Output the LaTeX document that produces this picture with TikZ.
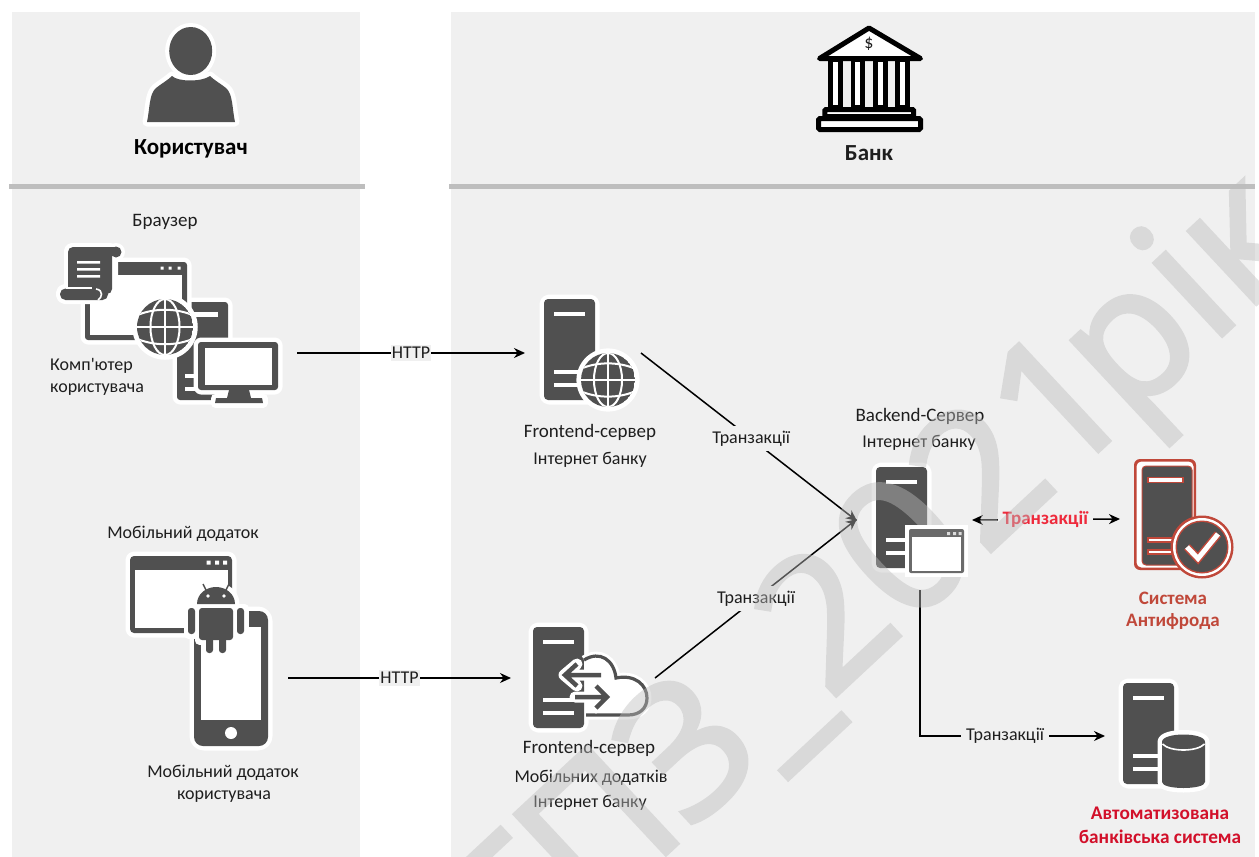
\documentclass[tikz,border=0pt]{standalone}
\usepackage{fontspec}
\setmainfont{Carlito}
\newfontfamily\plainc{Carlito}
\newfontfamily\wmfont[FakeBold=2.4]{Open Sans}
\usetikzlibrary{arrows.meta,calc}
\definecolor{panelbg}{HTML}{F0F0F0}
\definecolor{dark}{HTML}{505050}
\definecolor{ruleg}{HTML}{BEBEBE}
\definecolor{txt}{HTML}{1E1E1E}
\definecolor{afred}{HTML}{C0483A}
\definecolor{absred}{HTML}{D2102A}
\definecolor{brred}{HTML}{EE2A3C}
\definecolor{wm}{HTML}{BDBDBD}
\tikzset{
  panel/.style={fill=panelbg,draw=none},
  sep/.style={draw=ruleg,line width=5pt},
  dk/.style={fill=dark,draw=none},
  wh/.style={fill=white,draw=none},
  halo/.style={fill=white,draw=white,line width=#1,line join=round},
  halo/.default=9pt,
  iconbox/.style={draw=none,fill=none,inner sep=0pt,outer sep=0pt},
  lbl/.style={font=\fontsize{18}{22}\selectfont,text=txt,inner sep=0pt,yshift=-1.5pt},
  lblw/.style={lbl,font=\fontsize{19}{22}\selectfont},
  conn/.style={draw=black,line width=1.5pt},
  arr/.style={conn,-{Stealth[length=11pt,width=10pt]}},
  onconn/.style={lbl,fill=panelbg,inner sep=5pt,pos=.5,yshift=1.5pt},
  onhttp/.style={lbl,fill=panelbg,inner xsep=1pt,inner ysep=2pt,yshift=1.5pt},
}
% server tower: top-left corner of body
\newcommand{\towerIcon}[2]{%
  \begin{scope}[shift={(#1,#2)}]
    \fill[halo,rounded corners=5pt] (0,0) rectangle (51,101);
    \fill[dk,rounded corners=4pt] (0,0) rectangle (51,101);
    \fill[wh] (10,13) rectangle (41,17);
    \fill[wh] (10,71) rectangle (41,75);
    \fill[wh] (10,84) rectangle (41,88);
  \end{scope}}
\newcommand{\globeIcon}[3]{%
  \begin{scope}[shift={(#1,#2)},scale=#3]
    \fill[white] (0,0) circle[radius=1.17];
    \begin{scope}
      \clip (0,0) circle[radius=1];
      \fill[dark] (0,0) circle[radius=1];
      \draw[white,line width=2pt] (-1,0) -- (1,0) (0,-1) -- (0,1);
      \draw[white,line width=2pt] (0,0) ellipse[x radius=.52,y radius=1];
      \draw[white,line width=2pt] (-1,-.42) .. controls (-.4,-.68) and (.4,-.68) .. (1,-.42);
      \draw[white,line width=2pt] (-1,.42) .. controls (-.4,.68) and (.4,.68) .. (1,.42);
    \end{scope}
  \end{scope}}
\begin{document}
\begin{tikzpicture}[x=1pt,y=-1pt]
\useasboundingbox (0,0) rectangle (1259,857);
\fill[white] (0,0) rectangle (1259,857);
\clip (0,0) rectangle (1259,857);
% panels
\fill[panel] (12,12) rectangle (360,857);
\fill[panel] (451,12) rectangle (1255,857);
\draw[sep] (9,186.5) -- (365,186.5);
\draw[sep] (449,186.5) -- (1255,186.5);

% ---- layout boxes for icons
\node[iconbox,minimum width=237pt,minimum height=100pt] (pc) at (178.5,353) {};
\node[iconbox,minimum width=158pt,minimum height=136pt] (mob) at (209,678) {};
\node[iconbox,minimum width=116pt,minimum height=110pt] (fe) at (583,353) {};
\node[iconbox,minimum width=144pt,minimum height=100pt] (fm) at (583,678) {};
\node[iconbox,minimum width=115pt,minimum height=140pt] (be) at (914.5,520) {};
\node[iconbox,minimum width=100pt,minimum height=112pt] (af) at (1170,519) {};
\node[iconbox,minimum width=100pt,minimum height=112pt] (abs) at (1155,736) {};

% ---- user
\fill[halo] (147,122) .. controls (150,108) and (149,94) .. (156,88)
  .. controls (161,84) and (168,80) .. (172,76)
  .. controls (178,82) and (202,82) .. (210,76)
  .. controls (214,80) and (221,84) .. (226,88)
  .. controls (233,94) and (232,108) .. (235,122) -- cycle;
\fill[dk] (147,122) .. controls (150,108) and (149,94) .. (156,88)
  .. controls (161,84) and (168,80) .. (172,76)
  .. controls (178,82) and (202,82) .. (210,76)
  .. controls (214,80) and (221,84) .. (226,88)
  .. controls (233,94) and (232,108) .. (235,122) -- cycle;
\fill[white] (190.7,51) ellipse[x radius=25.5,y radius=28];
\fill[dark] (190.7,51) ellipse[x radius=21.5,y radius=24];
\node[lbl,font=\fontsize{23}{26}\selectfont\bfseries,text=black] (tuser) at (191,147) {Користувач};

% ---- bank
\draw[black,line width=5pt,fill=white,line join=round,line cap=round] (869,28) -- (819.5,58.5) -- (920.5,58.5) -- cycle;
\node[lbl,font=\fontsize{18}{18}\selectfont] (tdollar) at (869,42) {\$};
\foreach \cx in {828.3,850.7,873.3,895.3}{
  \draw[black,line width=4.7pt,fill=white] (\cx+2.35,60) rectangle (\cx+12.1,107);
}
\draw[black,line width=5pt,fill=white,rounded corners=1pt] (824.8,109.5) rectangle (913.5,116.5);
\draw[black,line width=5pt,fill=white,rounded corners=1.5pt] (818.5,118.5) rectangle (920.5,129.5);
\node[lbl,font=\fontsize{23}{26}\selectfont\bfseries,text=txt] (tbank) at (869,152) {Банк};

% ---- PC group
\fill[halo,rounded corners=3pt] (177,302) rectangle (228,400);
\fill[dk,rounded corners=3pt] (177,302) rectangle (228,400);
\fill[wh] (192,312) rectangle (218,317);
\fill[wh] (185,374) rectangle (199,377.5);
\fill[wh] (185,387) rectangle (199,391);
\fill[halo,rounded corners=3pt] (85,262) rectangle (187,340);
\fill[dk,rounded corners=3pt] (85,262) rectangle (187,340);
\fill[wh] (90,275) rectangle (182,335);
\fill[white] (160.5,266.5) rectangle (163.5,269.5) (168.5,266.5) rectangle (171.5,269.5) (177.5,266.5) rectangle (180.5,269.5);
% scroll
\fill[halo,line width=8pt,rounded corners=4pt] (68,247) rectangle (114,294);
\fill[white] (116,252) circle[radius=9];
\fill[halo,line width=8pt,rounded corners=5pt] (60,288) rectangle (108,300);
\fill[dk,rounded corners=5pt] (68,247) rectangle (112,294);
\fill[dark] (116,252) circle[radius=5.5];
\fill[dk] (104,246.5) rectangle (116,252);
\fill[dk,rounded corners=5.5pt] (60,288.5) rectangle (108,300);
\draw[white,line width=1.6pt] (96,289) .. controls (104,290) and (102,298) .. (98,300);
\draw[white,line width=1.6pt] (66,288) -- (92,288);
\fill[wh] (77,261) rectangle (100,263.5) (77,268) rectangle (100,270.5) (77,275) rectangle (100,277.5);
\globeIcon{165}{327}{28}
% monitor
\fill[halo,rounded corners=3pt] (198,342) rectangle (278,390);
\fill[halo] (231,390) rectangle (245,398) (215,398) rectangle (263,403);
\fill[dk,rounded corners=3pt] (198,342) rectangle (278,390);
\fill[wh] (205,348) rectangle (272,385);
\fill[dk] (229,390) -- (249,390) -- (251,398) -- (262,398) -- (263,403) -- (215,403) -- (216,398) -- (227,398) -- cycle;
\node[lbl,anchor=west] (tpc1) at (50,364) {{\plainc Комп'ютер}};
\node[lbl,anchor=west] (tpc2) at (50,388) {користувача};
\node[lblw] (tbrowser) at (165,220) {Браузер};

% ---- mobile group
\fill[halo,rounded corners=4pt] (130,556) rectangle (232,633);
\fill[dk,rounded corners=4pt] (130,556) rectangle (232,633);
\fill[wh] (135,570) rectangle (228,628);
\fill[white] (206.5,560.5) rectangle (210.5,564.5) (215,560.5) rectangle (219,564.5) (223,560.5) rectangle (227,564.5);
\fill[halo,rounded corners=10pt] (194,611) rectangle (268,746);
\fill[dk,rounded corners=9pt] (194,611) rectangle (268,746);
\fill[wh] (201,627) rectangle (261,720);
\fill[white] (231,733) circle[radius=6];
% android
\fill[halo,line width=9pt] (197,604) .. controls (197,594) and (206,587) .. (216,587) .. controls (226,587) and (235,594) .. (235,604) -- cycle;
\fill[halo,line width=9pt] (199,608) rectangle (233,640) (206,640) rectangle (226,653) (188,608) rectangle (195,634) (237,608) rectangle (244,634);
\draw[dark,line width=1.4pt] (207,592) -- (203,584) (225,592) -- (229,584);
\fill[dk] (197,604) .. controls (197,594) and (206,587) .. (216,587) .. controls (226,587) and (235,594) .. (235,604) -- cycle;
\fill[white] (208,596) circle[radius=1.8] (224,596) circle[radius=1.8];
\fill[dk,rounded corners=3pt] (199,608) -- (233,608) -- (233,640) -- (199,640) -- cycle;
\fill[dk,rounded corners=3pt] (188,608) rectangle (195,634) (237,608) rectangle (244,634);
\fill[dk,rounded corners=3pt] (206,636) rectangle (213,653) (219,636) rectangle (226,653);
\node[lbl] (tmob0) at (183,532) {Мобільний додаток};
\node[lbl] (tmob1) at (223,771) {Мобільний додаток};
\node[lbl] (tmob2) at (224,795) {користувача};

% ---- frontend web
\towerIcon{544}{299}
\globeIcon{608}{380}{27}
\node[lblw] (tfe1) at (590,431) {Frontend-сервер};
\node[lbl] (tfe2) at (590,458) {Інтернет банку};

% ---- frontend mobile
\towerIcon{533}{627}
\draw[white,line width=9pt,fill=white,line join=round] (584,660) .. controls (600,650) and (614,660) .. (616,678)
  .. controls (635,674) and (647,685) .. (647,698) .. controls (647,708) and (640,715) .. (628,715) -- (586,715);
\draw[dark,line width=3.2pt,fill=white] (584,660) .. controls (600,650) and (614,660) .. (616,678)
  .. controls (635,674) and (647,685) .. (647,698) .. controls (647,708) and (640,715) .. (628,715) -- (586,715);
\draw[white,line width=11pt,line cap=round,line join=round] (600,675) -- (566,675) (577,664) -- (564,675) -- (577,686);
\draw[white,line width=11pt,line cap=round,line join=round] (575,697) -- (606,697) (596,686) -- (607,697) -- (596,708);
\draw[dark,line width=4.5pt,line join=miter] (601,675) -- (567,675) (577,664) -- (565,675) -- (577,686);
\draw[dark,line width=4.5pt,line join=miter] (575,697) -- (605,697) (596,686) -- (607,697) -- (596,708);
\node[lblw] (tfm1) at (589,747) {Frontend-сервер};
\node[lbl] (tfm2) at (591,776) {Мобільних додатків};
\node[lbl] (tfm3) at (590,801) {Інтернет банку};

% ---- backend server
\towerIcon{876}{467}
\node[lblw] (tbe1) at (920,415) {Backend-Сервер};
\node[lbl] (tbe2) at (919,441) {Інтернет банку};

% ---- antifraud
\fill[afred,rounded corners=6pt] (1134,459) rectangle (1196,570);
\fill[white,rounded corners=5pt] (1136.5,461.5) rectangle (1193.5,567.5);
\draw[afred,fill=dark,line width=1pt,rounded corners=4pt] (1142,466) rectangle (1192,565);
\draw[afred,fill=white,line width=1.3pt] (1148,477.5) rectangle (1183,482.5);
\draw[afred,fill=white,line width=1.3pt] (1148,538) rectangle (1183,542);
\draw[afred,fill=white,line width=1.3pt] (1148,550) rectangle (1183,554);
\fill[afred] (1202,547) circle[radius=31.5];
\fill[white] (1202,547) circle[radius=29];
\fill[afred] (1202,547) circle[radius=26.5];
\fill[dark] (1202,547) circle[radius=25];
\draw[afred,line width=8pt,line join=miter] (1187,547) -- (1198,558.5) -- (1218,534);
\draw[white,line width=5pt,line join=miter] (1187,547) -- (1198,558.5) -- (1218,534);
\node[lbl,font=\fontsize{19}{22}\selectfont\bfseries,text=afred] (taf1) at (1173,597) {Система};
\node[lbl,font=\fontsize{19}{22}\selectfont\bfseries,text=afred] (taf2) at (1173,620) {Антифрода};

% ---- core banking
\towerIcon{1123}{683}
\fill[halo] (1162,742) .. controls (1162,732) and (1205,732) .. (1205,742) -- (1205,782) .. controls (1205,790) and (1162,790) .. (1162,782) -- cycle;
\fill[dk] (1162,742) .. controls (1162,732) and (1205,732) .. (1205,742) -- (1205,782) .. controls (1205,790) and (1162,790) .. (1162,782) -- cycle;
\draw[white,line width=1.6pt] (1162.5,744) .. controls (1170,752) and (1197,752) .. (1204.5,744);
\node[lbl,font=\fontsize{19.3}{22}\selectfont\bfseries,text=absred] (tabs1) at (1160,812) {Автоматизована};
\node[lbl,font=\fontsize{19.3}{22}\selectfont\bfseries,text=absred] (tabs2) at (1160,835) {банківська система};

% ---- connectors
\draw[arr] (pc.east) -- node[onhttp] (lh1) {HTTP} (fe.west);
\draw[arr] (mob.east) -- node[onhttp] (lh2) {HTTP} (fm.west);
\draw[arr] (fe.east) -- node[onconn,pos=.51] (lt1) {Транзакції} ([yshift=-1]be.west);
\draw[arr] (fm.east) -- node[onconn,pos=.5] (lt2) {Транзакції} ([yshift=1]be.west);
\draw[conn,{Stealth[length=11pt,width=10pt]}-{Stealth[length=11pt,width=10pt]}] (be.east) -- node[onconn,inner xsep=5pt,pos=.495,font=\fontsize{19}{22}\selectfont\bfseries,text=brred] (lt3) {Транзакції} (af.west);
\draw[arr] ([xshift=5.5]be.south) |- node[onconn,pos=.73] (lt4) {Транзакції} (abs.west);

% ---- watermark
\begin{scope}[transparency group,opacity=.44]
\node[inner sep=0pt,outer sep=0pt,anchor=base west,rotate=43,text=wm,font=\wmfont\fontsize{185}{185}\selectfont] (wmark) at (517,993) {ТПЗ\_2021\hspace{-16pt}рік};
\end{scope}

% ---- backend window over the watermark
\fill[white] (905,525) rectangle (968,577);
\fill[fill=dark!85!white,rounded corners=2pt] (909,529) rectangle (964,573);
\fill[wh] (912,537) rectangle (961,571);
\fill[white!80!dark] (947,532) rectangle (950,535) (953,532) rectangle (956,535) (958.5,532) rectangle (961.5,535);
\end{tikzpicture}
\end{document}
